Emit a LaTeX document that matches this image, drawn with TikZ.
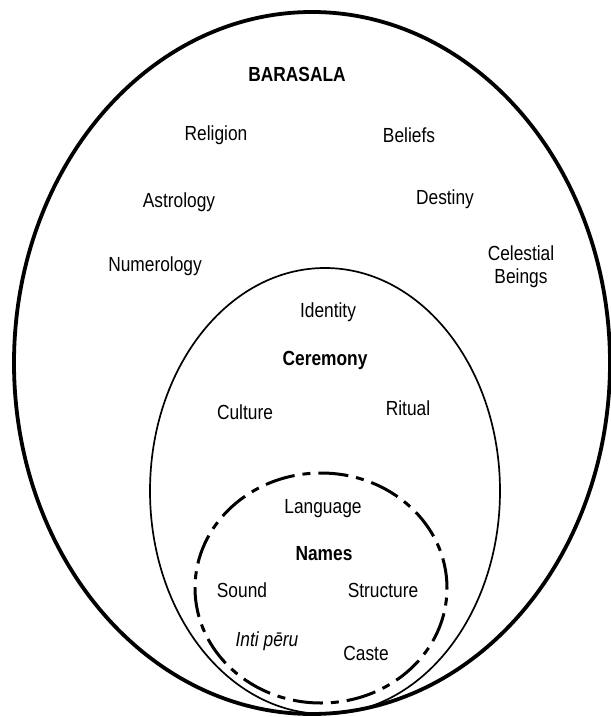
\documentclass[tikz,border=0pt]{standalone}
\usepackage{fontspec}
\setmainfont{Liberation Sans}[FakeStretch=0.85]
\begin{document}
\begin{tikzpicture}[x=0.5pt,y=-0.5pt,
  lbl/.style={inner sep=0pt,font=\fontsize{10.2}{11.5}\selectfont,align=center},
  blbl/.style={lbl,font=\fontsize{10.2}{11.5}\selectfont\bfseries},
  ilbl/.style={lbl,font=\fontsize{10.2}{11.5}\selectfont\itshape},
  outerring/.style={line width=1.9pt},
  midring/.style={line width=0.85pt},
  dashring/.style={line width=1.5pt,dash pattern=on 15pt off 4pt on 4pt off 4pt}]
\useasboundingbox (0,0) rectangle (610,717);
% rings
\draw[outerring] (312,363) ellipse [x radius=149pt, y radius=175.5pt];
\draw[midring] (325,491) ellipse [x radius=87.5pt, y radius=111.5pt];
\draw[dashring] (321,588) ellipse [x radius=63pt, y radius=57.5pt];
% outer labels
\node[blbl] (barasala) at (297,74) {BARASALA};
\node[lbl] (religion) at (216,135) {Religion};
\node[lbl] (beliefs) at (409,135) {Beliefs};
\node[lbl] (astrology) at (179,202) {Astrology};
\node[lbl] (destiny) at (445,199) {Destiny};
\node[lbl] (numerology) at (155,266) {Numerology};
\node[lbl] (celestial) at (521,267) {Celestial\\Beings};
% middle labels
\node[lbl] (identity) at (328,312) {Identity};
\node[blbl] (ceremony) at (325,360) {Ceremony};
\node[lbl] (culture) at (245,412) {Culture};
\node[lbl] (ritual) at (408,408) {Ritual};
% inner labels
\node[lbl] (language) at (323,509) {Language};
\node[blbl] (names) at (324,554) {Names};
\node[lbl] (sound) at (242,590) {Sound};
\node[lbl] (structure) at (383,590) {Structure};
\node[ilbl] (inti) at (267,641) {Inti pēru};
\node[lbl] (caste) at (366,653) {Caste};
\end{tikzpicture}
\end{document}
